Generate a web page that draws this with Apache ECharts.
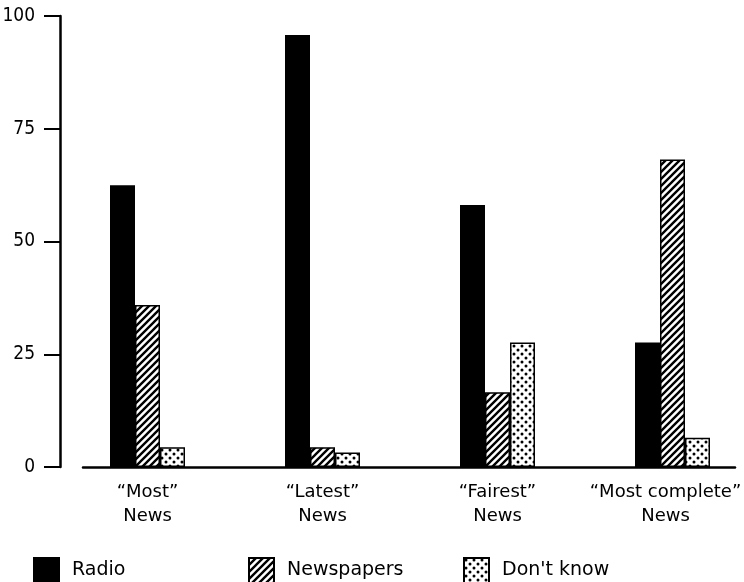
<!DOCTYPE html>
<html>
<head>
<meta charset="utf-8">
<script src="https://cdn.jsdelivr.net/npm/echarts@6/dist/echarts.min.js"></script>
<style>html,body{margin:0;padding:0;background:#fff}#c{width:744px;height:582px}</style>
</head>
<body>
<div id="c"></div>
<script>
const categories = ['\u201CMost\u201D\nNews', '\u201CLatest\u201D\nNews', '\u201CFairest\u201D\nNews', '\u201CMost complete\u201D\nNews'];
const radio = [62.5, 95.8, 58.1, 27.6];
const newspapers = [35.9, 4.4, 16.6, 68.2];
const dontKnow = [4.4, 3.2, 27.6, 6.5];
const yTicks = [0, 25, 50, 75, 100];

function hatch() {
  const s = 7;
  const c = document.createElement('canvas');
  c.width = s; c.height = s;
  const g = c.getContext('2d');
  g.fillStyle = '#fff'; g.fillRect(0, 0, s, s);
  g.strokeStyle = '#000'; g.lineWidth = 2.4;
  g.beginPath();
  g.moveTo(-1, s + 1); g.lineTo(s + 1, -1);
  g.moveTo(-2, 2); g.lineTo(2, -2);
  g.moveTo(s - 2, s + 2); g.lineTo(s + 2, s - 2);
  g.stroke();
  return c;
}
function dots() {
  const c = document.createElement('canvas');
  c.width = 8; c.height = 8;
  const g = c.getContext('2d');
  g.fillStyle = '#fff'; g.fillRect(0, 0, 8, 8);
  g.fillStyle = '#000';
  g.beginPath(); g.arc(2, 2, 1.5, 0, Math.PI * 2); g.fill();
  g.beginPath(); g.arc(6, 6, 1.5, 0, Math.PI * 2); g.fill();
  return c;
}

const font = 'DejaVu Sans';
const catData = categories.map((c, i) => i === categories.length - 1
  ? {value: c, textStyle: {padding: [0, 14, 0, 0]}}
  : c);
const chart = echarts.init(document.getElementById('c'), null, {renderer: 'canvas'});
function legend(name, left) {
  return {
    data: [name], left: left, top: 557, itemWidth: 25, itemHeight: 25, padding: 0,
    icon: 'rect', selectedMode: false,
    textStyle: {fontFamily: font, fontSize: 19, color: '#000', padding: [0, 0, 0, 8]}
  };
}
chart.setOption({
  animation: false,
  backgroundColor: '#fff',
  legend: [legend('Radio', 33), legend('Newspapers', 248), legend("Don't know", 463)],
  grid: [
    {left: 60, width: 700, top: 16, height: 451, containLabel: false, outerBoundsMode: 'none'},
    {left: 83, right: 9, top: 16, height: 451, containLabel: false, outerBoundsMode: 'none'}
  ],
  xAxis: [
    {
      type: 'category', data: catData, gridIndex: 0,
      axisLine: {show: false}, axisTick: {show: false},
      axisLabel: {interval: 0, fontFamily: font, fontSize: 18, color: '#000', lineHeight: 24, margin: 13}
    },
    {
      type: 'value', gridIndex: 1, min: 0, max: 1,
      axisLine: {show: true, lineStyle: {color: '#000', width: 2.5}},
      axisTick: {show: false}, axisLabel: {show: false}, splitLine: {show: false}
    }
  ],
  yAxis: [
    {
      type: 'value', gridIndex: 0, min: yTicks[0], max: yTicks[yTicks.length - 1], interval: 25,
      axisLine: {show: true, lineStyle: {color: '#000', width: 2.5}},
      axisTick: {show: true, length: 16, lineStyle: {color: '#000', width: 2}},
      axisLabel: {fontFamily: 'DejaVu Sans Condensed', fontSize: 19, color: '#000', margin: 25},
      splitLine: {show: false}
    },
    {type: 'value', gridIndex: 1, show: false}
  ],
  series: [
    {name: 'Radio', type: 'bar', data: radio, barWidth: 25, barGap: '0%',
     itemStyle: {color: '#000', borderColor: '#000', borderWidth: 1.5}},
    {name: 'Newspapers', type: 'bar', data: newspapers, barWidth: 25, barGap: '0%',
     itemStyle: {color: {image: hatch(), repeat: 'repeat'}, borderColor: '#000', borderWidth: 1.5}},
    {name: "Don't know", type: 'bar', data: dontKnow, barWidth: 25, barGap: '0%',
     itemStyle: {color: {image: dots(), repeat: 'repeat'}, borderColor: '#000', borderWidth: 1.5}}
  ]
});
</script>
</body>
</html>
